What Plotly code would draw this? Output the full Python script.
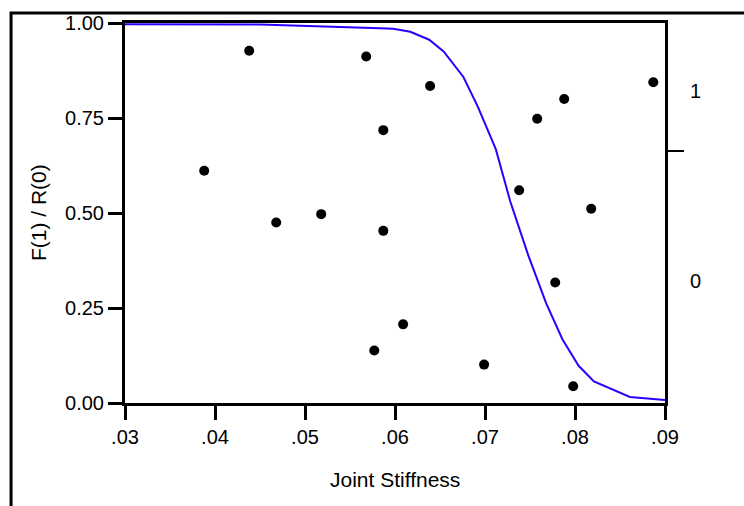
import plotly.graph_objects as go

# Observed points
pt_x = [0.0388, 0.0438, 0.0468, 0.0518, 0.0568, 0.0587, 0.0587, 0.0577, 0.0609,
        0.0639, 0.0699, 0.0738, 0.0758, 0.0788, 0.0818, 0.0778, 0.0798, 0.0887]
pt_y = [0.611, 0.927, 0.475, 0.497, 0.912, 0.718, 0.453, 0.138, 0.207,
        0.834, 0.101, 0.560, 0.748, 0.800, 0.511, 0.317, 0.044, 0.844]

# Fitted curve
fit_x = [0.0300, 0.0450, 0.0583, 0.0598, 0.0617, 0.0638, 0.0654, 0.0676, 0.0692,
         0.0712, 0.0728, 0.0748, 0.0768, 0.0786, 0.0804, 0.0821, 0.0861, 0.0900]
fit_y = [0.997, 0.996, 0.986, 0.985, 0.977, 0.956, 0.925, 0.858, 0.780,
         0.668, 0.531, 0.389, 0.262, 0.168, 0.098, 0.057, 0.016, 0.008]

x_ticks = [0.03, 0.04, 0.05, 0.06, 0.07, 0.08, 0.09]
x_labels = [".03", ".04", ".05", ".06", ".07", ".08", ".09"]
y_ticks = [0.0, 0.25, 0.5, 0.75, 1.0]
y_labels = ["0.00", "0.25", "0.50", "0.75", "1.00"]
r_ticks = [0, 1]
r_labels = ["0", "1"]
r_split = [0.684]

FONT = "Liberation Sans, Arial, sans-serif"

fig = go.Figure()
fig.add_trace(go.Scatter(x=fit_x, y=fit_y, mode="lines",
                         line=dict(color="#2a00ff", width=2), showlegend=False))
fig.add_trace(go.Scatter(x=pt_x, y=pt_y, mode="markers",
                         marker=dict(color="black", size=10), showlegend=False))
# invisible trace to activate right axis
fig.add_trace(go.Scatter(x=[None], y=[None], yaxis="y2", showlegend=False))

fig.update_layout(
    width=744, height=506,
    margin=dict(l=125, r=79, t=17, b=103),
    paper_bgcolor="white", plot_bgcolor="white",
    font=dict(family=FONT, size=20, color="black"),
    xaxis=dict(range=[0.03, 0.09], tickvals=x_ticks, ticktext=x_labels,
               showgrid=False, zeroline=False, showline=True, linecolor="black",
               linewidth=3, mirror=True, ticks="outside", ticklen=14,
               tickwidth=3, tickcolor="black"),
    yaxis=dict(range=[0, 1], tickvals=y_ticks, ticktext=y_labels,
               showgrid=False, zeroline=False, showline=True, linecolor="black",
               linewidth=3, ticks="outside", ticklen=14, tickwidth=3,
               tickcolor="black"),
    yaxis2=dict(overlaying="y", side="right", range=[-0.642, 1.358],
                tickvals=r_ticks, ticktext=r_labels, ticks="",
                showgrid=False, zeroline=False, showline=True, linecolor="black",
                linewidth=3, ticklabelstandoff=18,
                minor=dict(tickvals=r_split, ticks="outside", ticklen=16,
                           tickwidth=2, tickcolor="black", showgrid=False)),
    annotations=[
        dict(text="Joint Stiffness", xref="paper", yref="paper",
             x=0.5, y=-0.20, xanchor="center", yanchor="middle",
             showarrow=False, font=dict(size=21)),
        dict(text="F(1) / R(0)", xref="paper", yref="paper",
             x=-0.161, y=0.5, xanchor="center", yanchor="middle",
             textangle=-90, showarrow=False, font=dict(size=21)),
    ],
    shapes=[
        dict(type="rect", xref="paper", yref="paper",
             x0=-0.211, x1=1.5, y0=-0.5, y1=1.026,
             line=dict(color="black", width=3), layer="below"),
    ],
)

fig.write_html("out.html")
